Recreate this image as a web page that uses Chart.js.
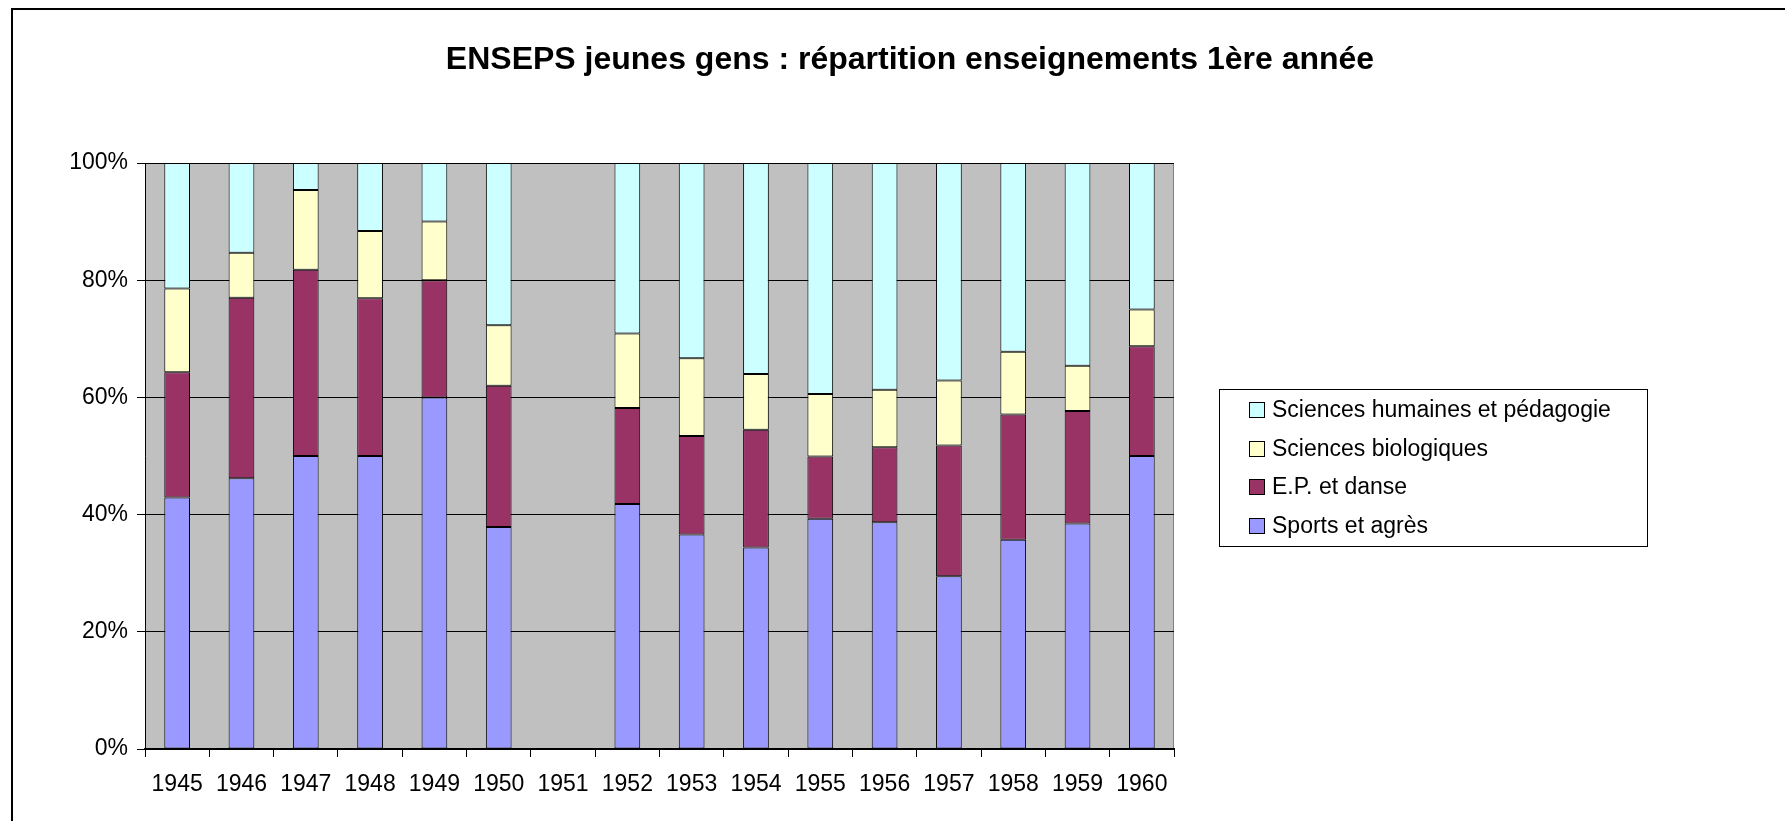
<!DOCTYPE html>
<html>
<head>
<meta charset="utf-8">
<title>ENSEPS jeunes gens</title>
<script src="https://cdn.jsdelivr.net/npm/chart.js@4.4.1/dist/chart.umd.min.js"></script>
<style>
  html, body { margin: 0; padding: 0; background: #fff; }
  #wrap { width: 1785px; height: 821px; }
</style>
</head>
<body>
<div id="wrap"><canvas id="chart" width="1785" height="821"></canvas></div>
<script>
const chartTitle = 'ENSEPS jeunes gens : répartition enseignements 1ère année';
const years = ['1945', '1946', '1947', '1948', '1949', '1950', '1951', '1952',
               '1953', '1954', '1955', '1956', '1957', '1958', '1959', '1960'];

// share of each subject in the first-year timetable (%)
const sports   = [42.9, 46.2, 50.0, 50.0, 60.0, 37.9, null, 41.8, 36.6, 34.4, 39.3, 38.7, 29.5, 35.7, 38.5, 50.0];
const epDanse  = [21.4, 30.8, 31.8, 26.9, 20.0, 24.1, null, 16.4, 16.8, 20.1, 10.6, 12.8, 22.3, 21.4, 19.2, 18.75];
const biologie = [14.3,  7.7, 13.6, 11.5, 10.0, 10.3, null, 12.7, 13.3,  9.5, 10.7,  9.8, 11.1, 10.7,  7.7,  6.25];
const humaines = [21.4, 15.3,  4.6, 11.6, 10.0, 27.7, null, 29.1, 33.3, 36.0, 39.4, 38.7, 37.1, 32.2, 34.6, 25.0];

const yTicks = [0, 20, 40, 60, 80, 100];

const FONT = '"Liberation Sans", Arial, sans-serif';

// grey plot area and the chart's outer frame
const chartFrame = {
  id: 'chartFrame',
  beforeDraw(chart) {
    const { ctx, chartArea: a } = chart;
    ctx.save();
    ctx.fillStyle = '#fff';
    ctx.fillRect(0, 0, chart.width, chart.height);
    ctx.strokeStyle = '#000';
    ctx.lineWidth = 2;
    ctx.beginPath();
    ctx.moveTo(12, chart.height);
    ctx.lineTo(12, 9);
    ctx.lineTo(chart.width, 9);
    ctx.stroke();
    ctx.fillStyle = '#c0c0c0';
    ctx.fillRect(a.left, a.top, a.width, a.height);
    ctx.strokeStyle = '#808080';
    ctx.lineWidth = 1;
    ctx.strokeRect(a.left + 0.5, a.top + 0.5, a.width - 1, a.height - 1);
    ctx.restore();
  }
};

// title and boxed legend, Excel style
const titleAndKey = {
  id: 'titleAndKey',
  afterDraw(chart) {
    const ctx = chart.ctx;
    ctx.save();
    ctx.fillStyle = '#000';
    ctx.font = 'bold 32px ' + FONT;
    ctx.textAlign = 'center';
    ctx.textBaseline = 'middle';
    ctx.fillText(chartTitle, 910, 60);

    ctx.strokeStyle = '#000';
    ctx.lineWidth = 1;
    ctx.strokeRect(1219.5, 389.5, 428, 157);

    ctx.font = '23px ' + FONT;
    ctx.textAlign = 'left';
    const items = chart.data.datasets.slice().reverse();
    items.forEach((ds, i) => {
      const y = Math.round(410 + i * 38.5);
      ctx.fillStyle = ds.backgroundColor;
      ctx.fillRect(1249, y - 8, 16, 16);
      ctx.strokeRect(1249.5, y - 7.5, 15, 15);
      ctx.fillStyle = '#000';
      ctx.fillText(ds.label, 1272, y + 1);
    });
    ctx.restore();
  }
};

const barStyle = { borderColor: '#000', borderWidth: 1, borderSkipped: false,
                   barPercentage: 0.4, categoryPercentage: 1 };

new Chart(document.getElementById('chart'), {
  type: 'bar',
  data: {
    labels: years,
    datasets: [
      { label: 'Sports et agrès', data: sports, backgroundColor: '#9999ff', ...barStyle },
      { label: 'E.P. et danse', data: epDanse, backgroundColor: '#993366', ...barStyle },
      { label: 'Sciences biologiques', data: biologie, backgroundColor: '#ffffcc', ...barStyle },
      { label: 'Sciences humaines et pédagogie', data: humaines, backgroundColor: '#ccffff', ...barStyle }
    ]
  },
  options: {
    responsive: false,
    animation: false,
    events: [],
    layout: { padding: { left: 0, top: 163, right: 611, bottom: 12 } },
    plugins: {
      legend: { display: false },
      title: { display: false },
      tooltip: { enabled: false }
    },
    scales: {
      x: {
        stacked: true,
        grid: { offset: true, drawOnChartArea: false, drawTicks: true, tickLength: 8, color: '#000' },
        border: { color: '#000', width: 2 },
        ticks: { color: '#000', font: { family: FONT, size: 23 }, padding: 14, maxRotation: 0, autoSkip: false },
        afterFit(s) { s.height = 60; }
      },
      y: {
        stacked: true,
        min: 0,
        max: 100,
        afterBuildTicks(s) { s.ticks = yTicks.map(v => ({ value: v })); },
        grid: { color: '#000', drawTicks: true, tickLength: 8 },
        border: { color: '#000', width: 1 },
        ticks: { color: '#000', font: { family: FONT, size: 23 }, padding: 9, callback: v => v + '%' },
        afterFit(s) { s.width = 145; }
      }
    }
  },
  plugins: [chartFrame, titleAndKey]
});
</script>
</body>
</html>
